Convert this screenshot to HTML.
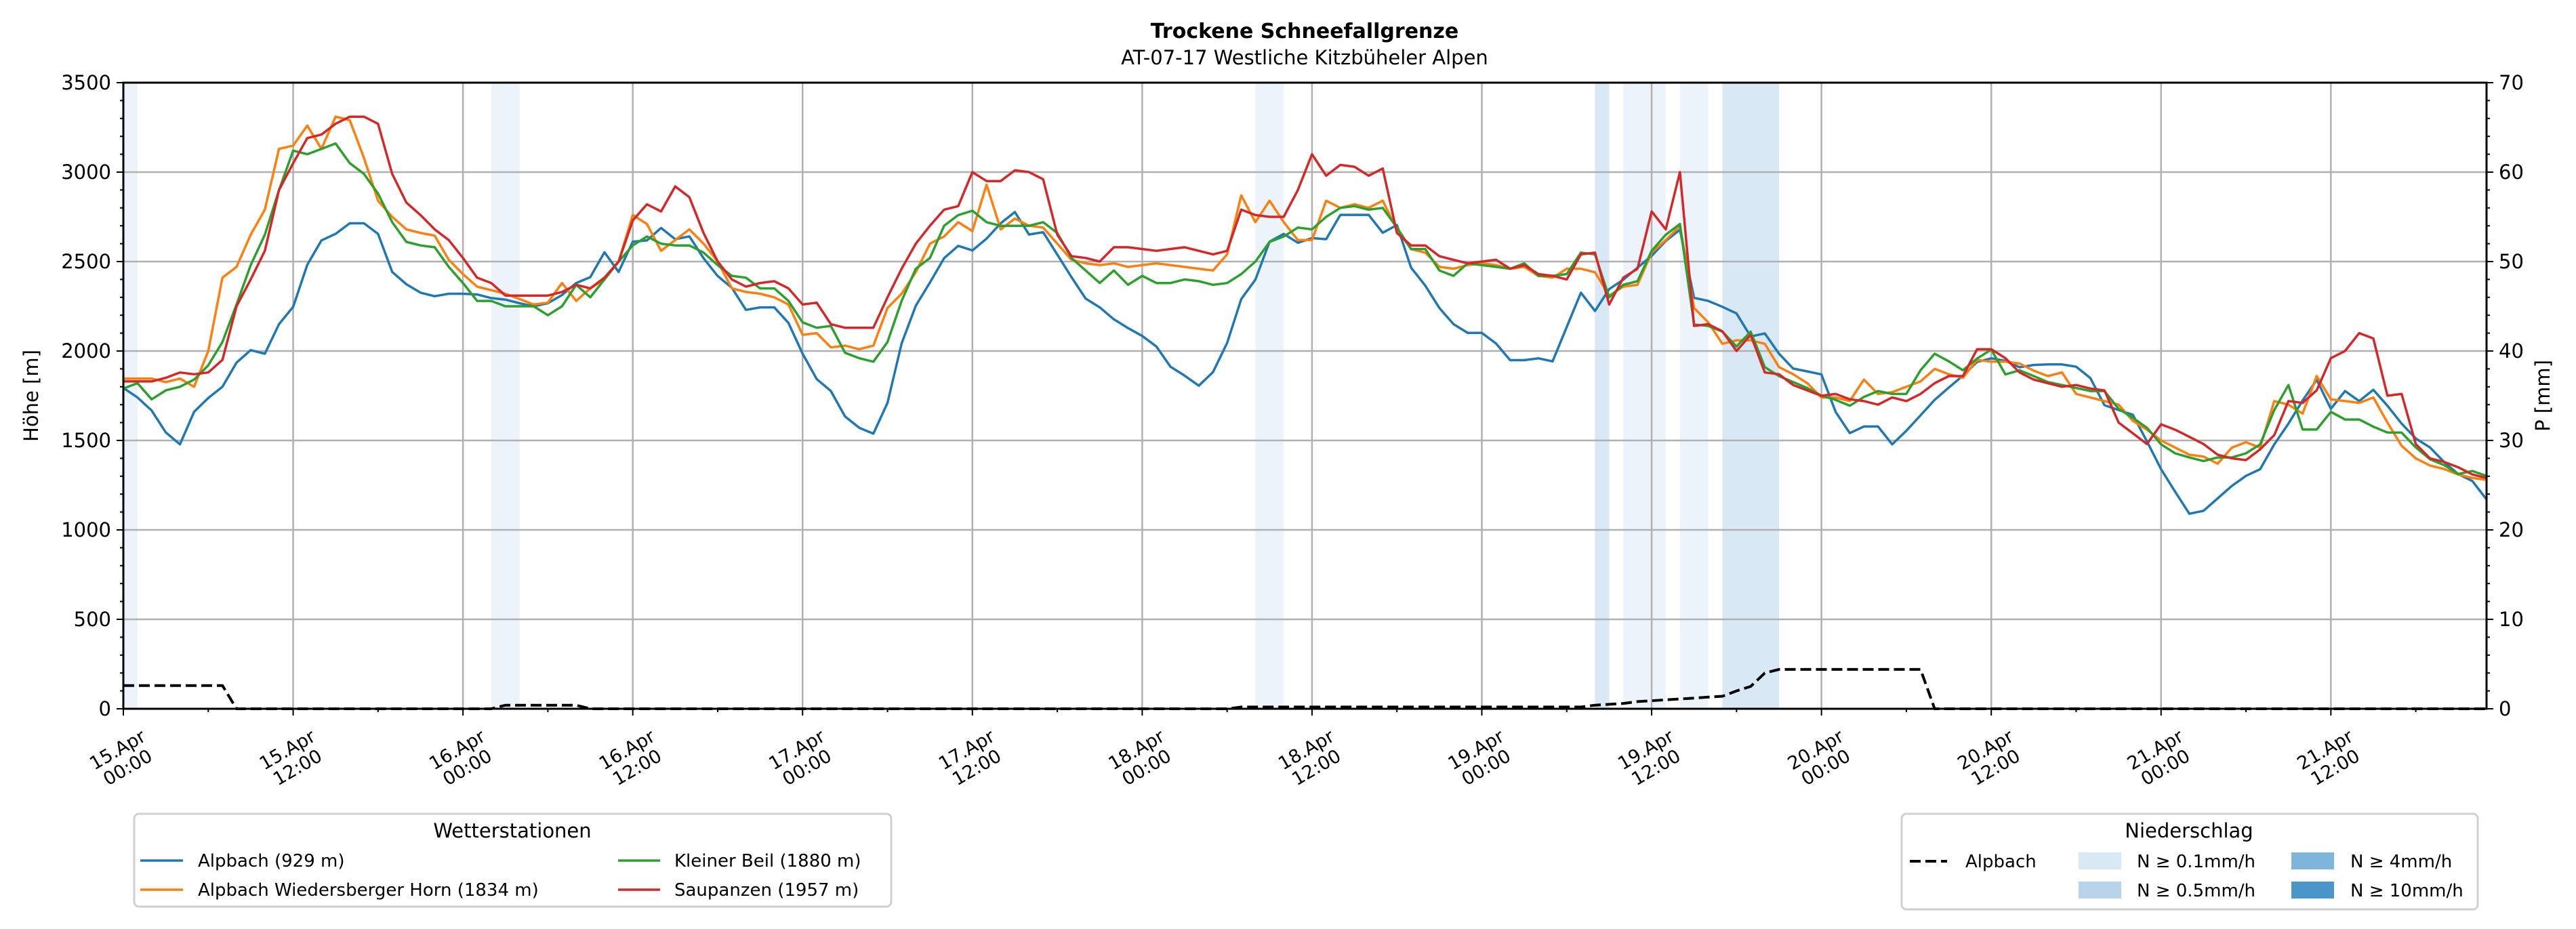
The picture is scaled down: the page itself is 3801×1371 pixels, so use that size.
<!DOCTYPE html>
<html><head><meta charset="utf-8">
<style>
html,body{margin:0;padding:0;background:#fff;}
svg{display:block;font-family:"DejaVu Sans","Liberation Sans",sans-serif;}
</style></head>
<body>
<svg id="chart" xmlns="http://www.w3.org/2000/svg" width="3801" height="1371" viewBox="0 0 3801 1371">
<rect x="0" y="0" width="3801" height="1371" fill="#fff"/>
<text x="1925" y="56" text-anchor="middle" font-size="30" font-weight="bold">Trockene Schneefallgrenze</text>
<text x="1925" y="95" text-anchor="middle" font-size="29">AT-07-17 Westliche Kitzbüheler Alpen</text>
<g id="bands"></g>
<g id="grid"></g>
<g id="series"></g>
<g id="axes"></g>
<text transform="translate(56,584) rotate(-90)" text-anchor="middle" font-size="29">Höhe [m]</text>
<text transform="translate(3762,584) rotate(-90)" text-anchor="middle" font-size="29">P [mm]</text>

<g>
<rect x="198" y="1201" width="1117" height="137" rx="7" fill="#fff" stroke="#d0d0d0" stroke-width="3"/>
<text x="756" y="1236" text-anchor="middle" font-size="29">Wetterstationen</text>
<g><line x1="207" y1="1270" x2="270" y2="1270" stroke="#1f77b4" stroke-width="3.5"/><text x="292" y="1279" font-size="26">Alpbach (929 m)</text></g>
<g><line x1="207" y1="1313" x2="270" y2="1313" stroke="#ff7f0e" stroke-width="3.5"/><text x="292" y="1322" font-size="26">Alpbach Wiedersberger Horn (1834 m)</text></g>
<g><line x1="912" y1="1270" x2="974" y2="1270" stroke="#2ca02c" stroke-width="3.5"/><text x="995" y="1279" font-size="26">Kleiner Beil (1880 m)</text></g>
<g><line x1="912" y1="1313" x2="974" y2="1313" stroke="#d62728" stroke-width="3.5"/><text x="995" y="1322" font-size="26">Saupanzen (1957 m)</text></g>
</g>

<g>
<rect x="2806" y="1201" width="850" height="141" rx="7" fill="#fff" stroke="#d0d0d0" stroke-width="3"/>
<text x="3230" y="1236" text-anchor="middle" font-size="29">Niederschlag</text>
<g><line x1="2818" y1="1271" x2="2873" y2="1271" stroke="#000" stroke-width="4" stroke-dasharray="16,7"/><text x="2900" y="1280" font-size="26">Alpbach</text></g>
<g><rect x="3067" y="1258" width="63" height="25" fill="#d9e8f5"/><text x="3153" y="1280" font-size="26">N ≥ 0.1mm/h</text></g>
<g><rect x="3067" y="1301" width="63" height="25" fill="#b7d4ea"/><text x="3153" y="1323" font-size="26">N ≥ 0.5mm/h</text></g>
<g><rect x="3381" y="1258" width="63" height="25" fill="#7fb5da"/><text x="3468" y="1280" font-size="26">N ≥ 4mm/h</text></g>
<g><rect x="3381" y="1301" width="63" height="25" fill="#4a96c9"/><text x="3468" y="1323" font-size="26">N ≥ 10mm/h</text></g>
</g>
</svg>
<script>
const alpbach=[1793,1740,1667,1545,1478,1660,1737,1800,1935,2005,1985,2150,2247,2482,2618,2655,2714,2714,2655,2442,2373,2326,2306,2320,2320,2316,2296,2287,2267,2250,2267,2313,2380,2413,2552,2442,2611,2618,2688,2625,2641,2519,2419,2353,2230,2244,2244,2157,1985,1843,1776,1634,1571,1538,
1710,2042,2253,2383,2519,2588,2562,2628,2714,2777,2651,2664,2539,2413,2293,2244,2177,2128,2084,2025,1912,1862,1806,1882,2045,2290,2399,2611,2655,2605,2631,2625,2761,2761,2761,2661,2704,2466,2366,2240,2150,2101,2101,2042,1949,1949,1959,1942,2134,2326,2224,2346,2399,2466,2532,2615,2678,
2297,2280,2247,2210,2081,2098,1985,1902,1886,1869,1660,1541,1578,1578,1478,1554,1640,1727,1796,1862,1939,1959,1945,1909,1922,1925,1925,1912,1849,1697,1670,1644,1495,1339,1213,1090,1107,1176,1246,1302,1339,1478,1594,1723,1839,1677,1776,1720,1783,1694,1594,1511,1461,1379,1312,1273,1170];
const wiedersberg=[1846,1846,1846,1826,1846,1800,2000,2410,2470,2650,2790,3130,3148,3260,3130,3310,3290,3080,2840,2750,2680,2660,2645,2510,2430,2360,2340,2320,2290,2260,2270,2380,2280,2350,2400,2500,2760,2710,2560,2620,2680,2600,2500,2350,2330,2320,2300,2260,2090,2100,2020,2030,2010,2030,
2240,2320,2440,2600,2640,2720,2670,2930,2680,2740,2700,2690,2600,2510,2490,2480,2490,2470,2480,2490,2480,2470,2460,2450,2540,2870,2720,2840,2720,2620,2620,2840,2800,2820,2800,2840,2680,2570,2550,2470,2460,2480,2490,2480,2460,2470,2420,2410,2460,2460,2440,2310,2360,2370,2550,2620,2700,
2240,2160,2040,2060,2060,2040,1910,1870,1820,1740,1740,1720,1840,1760,1770,1800,1830,1900,1870,1850,1950,1940,1940,1930,1890,1860,1880,1760,1740,1720,1700,1610,1560,1500,1460,1420,1410,1370,1460,1490,1460,1720,1700,1650,1860,1730,1720,1710,1740,1600,1470,1400,1360,1340,1310,1290,1280];
const kleinerBeil=[1790,1820,1730,1780,1800,1840,1920,2050,2260,2480,2650,2900,3120,3100,3130,3160,3050,2990,2880,2720,2610,2590,2580,2470,2380,2280,2280,2250,2250,2250,2200,2250,2370,2300,2400,2500,2590,2640,2600,2590,2590,2550,2480,2420,2410,2350,2350,2280,2160,2130,2140,1990,1960,1940,
2050,2280,2460,2520,2700,2760,2784,2720,2700,2700,2700,2720,2660,2520,2450,2380,2450,2370,2420,2380,2380,2400,2390,2370,2380,2430,2500,2610,2640,2690,2680,2750,2800,2810,2790,2800,2690,2570,2570,2450,2420,2490,2480,2470,2460,2490,2420,2420,2430,2550,2540,2300,2370,2390,2560,2650,2710,
2148,2140,2108,2025,2108,1910,1860,1826,1793,1750,1727,1694,1743,1776,1760,1760,1892,1985,1942,1892,1958,2008,1869,1892,1860,1826,1810,1793,1776,1776,1677,1627,1571,1478,1428,1405,1385,1405,1405,1428,1478,1670,1810,1561,1561,1660,1617,1617,1577,1544,1544,1461,1395,1362,1312,1329,1302];
const saupanzen=[1830,1830,1830,1850,1880,1870,1880,1950,2250,2400,2560,2900,3050,3190,3210,3270,3310,3310,3270,2990,2830,2760,2680,2620,2520,2410,2380,2310,2310,2310,2310,2330,2370,2350,2410,2500,2730,2820,2780,2920,2860,2660,2500,2400,2360,2380,2390,2350,2260,2270,2150,2130,2130,2130,
2300,2460,2600,2700,2790,2810,3000,2950,2950,3010,3000,2960,2650,2530,2520,2500,2580,2580,2570,2560,2570,2580,2560,2540,2560,2790,2760,2750,2750,2900,3100,2980,3040,3030,2980,3020,2660,2590,2590,2530,2510,2490,2500,2510,2460,2480,2430,2420,2400,2540,2550,2260,2410,2460,2780,2680,3000,
2140,2150,2110,2000,2090,1880,1870,1810,1780,1750,1760,1730,1720,1700,1740,1720,1760,1820,1860,1860,2010,2010,1960,1880,1840,1820,1800,1810,1790,1780,1600,1540,1480,1590,1560,1520,1480,1420,1400,1390,1450,1530,1720,1710,1780,1960,2000,2100,2070,1750,1760,1480,1400,1380,1350,1310,1290];
const precip=[2.6,2.6,2.6,2.6,2.6,2.6,2.6,2.6,
0,0,0,0,0,0,0,0,0,0,0,0,0,0,0,0,0,0,0,
0.4,0.4,0.4,0.4,0.4,0.4,
0,0,0,0,0,0,0,0,0,0,0,0,0,0,0,0,0,0,0,0,0,0,0,0,0,0,0,0,0,0,0,0,0,0,0,0,0,0,0,0,0,0,0,0,0,0,
0.2,0.2,0.2,0.2,0.2,0.2,0.2,0.2,0.2,0.2,0.2,0.2,0.2,0.2,0.2,0.2,0.2,0.2,0.2,0.2,0.2,0.2,0.2,0.2,0.2,
0.4,0.5,0.6,0.8,0.9,1.0,1.1,1.2,1.3,1.4,2.0,2.5,4.0,
4.4,4.4,4.4,4.4,4.4,4.4,4.4,4.4,4.4,4.4,4.4,
0,0,0,0,0,0,0,0,0,0,0,0,0,0,0,0,0,0,0,0,0,0,0,0,0,0,0,0,0,0,0,0,0,0,0,0,0,0,0,0];
const bandStart=[0,26,80,104,106,110,113];
const bandEnd=[1,28,82,105,109,112,117];
const bandLevel=[0,0,0,1,0,0,1];
const yTicks=[0,500,1000,1500,2000,2500,3000,3500];
const y2Ticks=[0,10,20,30,40,50,60,70];
const xTickLabels=[["15.Apr","00:00"],["15.Apr","12:00"],["16.Apr","00:00"],["16.Apr","12:00"],["17.Apr","00:00"],["17.Apr","12:00"],["18.Apr","00:00"],["18.Apr","12:00"],["19.Apr","00:00"],["19.Apr","12:00"],["20.Apr","00:00"],["20.Apr","12:00"],["21.Apr","00:00"],["21.Apr","12:00"]];

const L=182,R=3669,T=122,B=1046,HMAX=167;
const NS="http://www.w3.org/2000/svg";
function X(h){return L+(R-L)*h/HMAX;}
function Y(v){return B-(B-T)*v/3500;}
function Y2(v){return B-(B-T)*v/70;}
function mk(tag,attrs,parent){const e=document.createElementNS(NS,tag);for(const k in attrs)e.setAttribute(k,attrs[k]);parent.appendChild(e);return e;}

const gB=document.getElementById('bands');
const bandColors=['#edf3fa','#d9e8f5'];
for(let i=0;i<bandStart.length;i++){
  const r=mk('rect',{x:X(bandStart[i]),y:T,width:X(bandEnd[i])-X(bandStart[i]),height:B-T,fill:bandColors[bandLevel[i]]},gB);
  
  
}
const gG=document.getElementById('grid');
for(const v of yTicks){
  const l=mk('line',{x1:L,x2:R,y1:Y(v),y2:Y(v),stroke:'#b0b0b0','stroke-width':2.5},gG);
  
  
}
for(let i=0;i<xTickLabels.length;i++){
  const l=mk('line',{x1:X(i*12),x2:X(i*12),y1:T,y2:B,stroke:'#b0b0b0','stroke-width':2.5},gG);
  
  
}
const gS=document.getElementById('series');
const seriesData=[alpbach,wiedersberg,kleinerBeil,saupanzen];
const seriesNames=['line-alpbach','line-wiedersberger-horn','line-kleiner-beil','line-saupanzen'];
const seriesColors=['#1f77b4','#ff7f0e','#2ca02c','#d62728'];
for(let s=0;s<seriesData.length;s++){
  const pts=seriesData[s].map((v,i)=>X(i).toFixed(1)+','+Y(v).toFixed(1)).join(' ');
  const p=mk('polyline',{points:pts,fill:'none',stroke:seriesColors[s],'stroke-width':3.5,'stroke-linejoin':'round'},gS);
  
  
}
const pp=mk('polyline',{points:precip.map((v,i)=>X(i).toFixed(1)+','+Y2(v).toFixed(1)).join(' '),fill:'none',stroke:'#000','stroke-width':4,'stroke-dasharray':'16,7'},gS);



const gA=document.getElementById('axes');
const fr=mk('rect',{x:L,y:T,width:R-L,height:B-T,fill:'none',stroke:'#000','stroke-width':3},gA);


for(let v=0;v<=3500;v+=100){
  const major=v%500===0;
  mk('line',{x1:L,x2:L-(major?10:5),y1:Y(v),y2:Y(v),stroke:'#000','stroke-width':2},gA);
}
for(const v of yTicks){
  const t=mk('text',{x:L-18,y:Y(v)+10,'text-anchor':'end','font-size':29},gA);
  t.textContent=v;
  
  
}
for(let v=0;v<=70;v+=2){
  const major=v%10===0;
  mk('line',{x1:R,x2:R+(major?10:5),y1:Y2(v),y2:Y2(v),stroke:'#000','stroke-width':2},gA);
}
for(const v of y2Ticks){
  const t=mk('text',{x:R+18,y:Y2(v)+10,'text-anchor':'start','font-size':29},gA);
  t.textContent=v;
  
  
}
for(let h=0;h<=HMAX;h+=6){
  const major=h%12===0;
  mk('line',{x1:X(h),x2:X(h),y1:B,y2:B+(major?10:5),stroke:'#000','stroke-width':2},gA);
}
for(let i=0;i<xTickLabels.length;i++){
  const t=mk('text',{transform:'translate('+(X(i*12)-2)+',1118) rotate(-30)','text-anchor':'middle','font-size':27},gA);
  
  
  const a=mk('tspan',{x:0,y:-4},t);a.textContent=xTickLabels[i][0];
  const b=mk('tspan',{x:0,y:26},t);b.textContent=xTickLabels[i][1];
}
</script>
</body></html>
